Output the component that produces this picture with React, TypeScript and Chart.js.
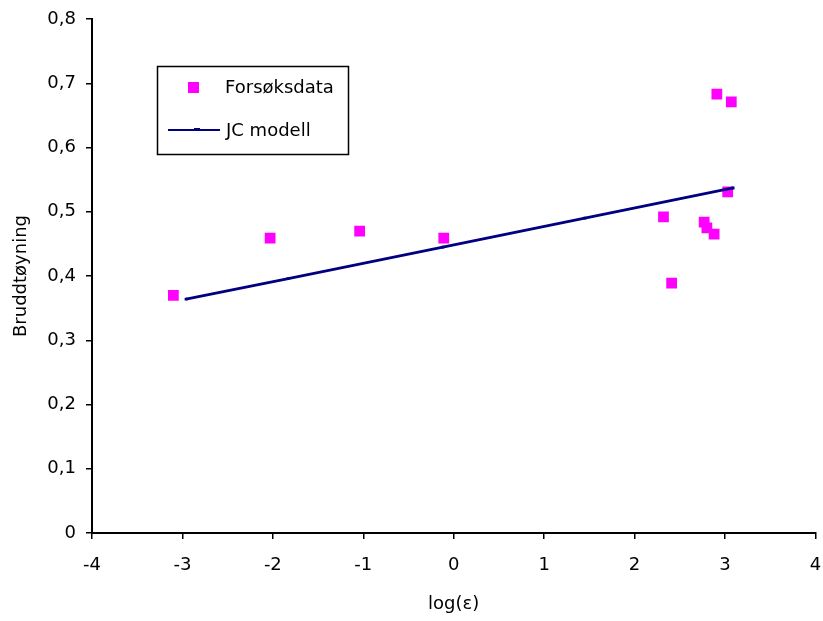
import React, { useEffect, useRef } from "react";
import { Chart, registerables } from "chart.js";

Chart.register(...registerables);

const dataX = [-3.10, -2.03, -1.04, -0.11, 2.32, 2.41, 2.91, 3.07, 3.03, 2.77, 2.80, 2.88];
const dataY = [0.370, 0.459, 0.470, 0.459, 0.492, 0.389, 0.683, 0.671, 0.531, 0.484, 0.475, 0.465];
const modelX = [-2.96, -1.83, -0.12, 1.45, 3.09];
const modelY = [0.364, 0.396, 0.445, 0.490, 0.537];
const seriesNames = ["Forsøksdata", "JC modell"];
const xTitle = "log(ε)";
const yTitle = "Bruddtøyning";

const FONT = "'DejaVu Sans', 'Liberation Sans', Arial, sans-serif";
const MAGENTA = "#FF00FF";
const NAVY = "#000080";

const legendPlugin = {
  id: "boxLegend",
  afterDraw(chart: any) {
    const ctx = chart.ctx;
    ctx.save();
    ctx.strokeStyle = "#000";
    ctx.lineWidth = 1.5;
    ctx.strokeRect(157.5, 66.5, 191, 88);
    ctx.fillStyle = MAGENTA;
    ctx.fillRect(188, 82, 11, 11);
    ctx.strokeStyle = NAVY;
    ctx.lineWidth = 2;
    ctx.beginPath();
    ctx.moveTo(168, 130);
    ctx.lineTo(220, 130);
    ctx.stroke();
    ctx.fillStyle = NAVY;
    ctx.fillRect(194, 128, 6, 3);
    ctx.fillStyle = "#000";
    ctx.font = `18px ${FONT}`;
    ctx.textBaseline = "middle";
    ctx.textAlign = "left";
    ctx.fillText(seriesNames[0], 225, 88);
    ctx.fillText(seriesNames[1], 226, 131);
    ctx.restore();
  },
};

export default function App() {
  const ref = useRef<HTMLCanvasElement | null>(null);
  useEffect(() => {
    if (!ref.current) return;
    const chart = new Chart(ref.current, {
      type: "scatter",
      data: {
        datasets: [
          {
            label: seriesNames[1],
            data: modelX.map((x, i) => ({ x, y: modelY[i] })),
            showLine: true,
            borderColor: NAVY,
            backgroundColor: NAVY,
            borderWidth: 2.8,
            pointStyle: "rect",
            pointRadius: 2,
            pointBorderWidth: 0,
          },
          {
            label: seriesNames[0],
            data: dataX.map((x, i) => ({ x, y: dataY[i] })),
            backgroundColor: MAGENTA,
            borderColor: MAGENTA,
            pointStyle: "rect",
            pointRadius: 7.6,
            pointBorderWidth: 0,
          },
        ],
      },
      options: {
        responsive: false,
        animation: false,
        layout: { padding: { top: 19, right: 7, left: 0, bottom: 0 } },
        plugins: { legend: { display: false }, tooltip: { enabled: false } },
        scales: {
          x: {
            type: "linear",
            min: -4,
            max: 4,
            ticks: {
              stepSize: 1,
              color: "#000",
              padding: 16,
              font: { family: FONT, size: 18 },
              maxRotation: 0,
            },
            grid: {
              drawOnChartArea: false,
              drawTicks: true,
              tickLength: 6,
              color: "#000",
              lineWidth: 1.5,
            },
            border: { display: true, color: "#000", width: 2 },
            title: {
              display: true,
              text: xTitle,
              color: "#000",
              font: { family: FONT, size: 18 },
              padding: { top: 0, bottom: 6 },
            },
            afterFit(scale: any) {
              scale.height = 88;
              scale.paddingLeft = 0;
              scale.paddingRight = 0;
            },
          },
          y: {
            type: "linear",
            min: 0,
            max: 0.8,
            ticks: {
              stepSize: 0.1,
              color: "#000",
              padding: 10,
              font: { family: FONT, size: 18 },
              callback: (v: any) => (Number(v) === 0 ? "0" : Number(v).toFixed(1).replace(".", ",")),
            },
            grid: {
              drawOnChartArea: false,
              drawTicks: true,
              tickLength: 6,
              color: "#000",
              lineWidth: 1.5,
            },
            border: { display: true, color: "#000", width: 2 },
            title: {
              display: true,
              text: yTitle,
              color: "#000",
              font: { family: FONT, size: 18 },
              padding: { top: 11, bottom: 0 },
            },
            afterFit(scale: any) {
              scale.width = 92;
              scale.paddingTop = 0;
              scale.paddingBottom = 0;
            },
          },
        },
      },
      plugins: [legendPlugin],
    });
    return () => chart.destroy();
  }, []);
  return (
    <div style={{ position: "absolute", left: 0, top: 0, width: 823, height: 621, background: "#fff" }}>
      <canvas ref={ref} width={823} height={621} />
    </div>
  );
}
